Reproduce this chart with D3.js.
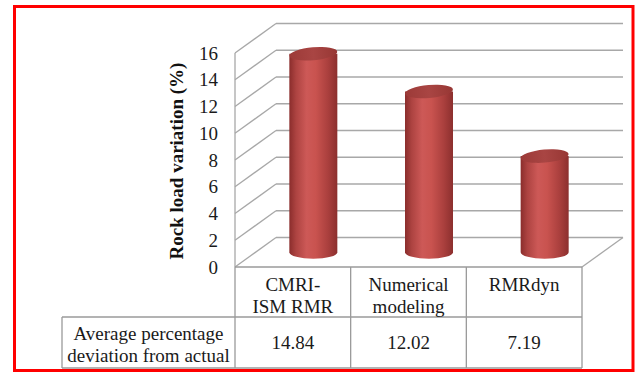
<!DOCTYPE html>
<html>
<head>
<meta charset="utf-8">
<script src="https://cdn.jsdelivr.net/npm/d3@7"></script>
<style>
  html, body { margin: 0; padding: 0; background: #fff; }
  svg { display: block; }
</style>
</head>
<body>
<svg id="chart" width="636" height="372"></svg>
<script>
// Rock load variation by method
const categories = [["CMRI-", "ISM RMR"], ["Numerical", "modeling"], ["RMRdyn"]];
const values = [14.84, 12.02, 7.19];
const yTicks = [0, 2, 4, 6, 8, 10, 12, 14, 16];
const rowLabel = ["Average percentage", "deviation from actual"];
const yTitle = "Rock load variation (%)";

const serif = "'Liberation Serif', 'Times New Roman', Times, 'DejaVu Serif', serif";
const svg = d3.select("#chart")
  .attr("font-family", serif)
  .style("font-family", serif);

// front plane of the 3D box and its depth offset
const x0 = 235, x1 = 582;
const depthX = 41, depthY = -29.5;
const gridColor = "#a8a8a8";

const x = d3.scaleBand().domain(d3.range(values.length)).range([x0, x1]).padding(0);
const y = d3.scaleLinear().domain([0, 16]).range([267, 53]);

// back wall gridlines
svg.append("g").selectAll("line").data(yTicks).join("line")
  .attr("x1", x0 + depthX).attr("x2", x1 + depthX)
  .attr("y1", d => y(d) + depthY).attr("y2", d => y(d) + depthY)
  .attr("stroke", gridColor).attr("stroke-width", 1.3);

// left side wall diagonals
svg.append("g").selectAll("line").data(yTicks).join("line")
  .attr("x1", x0).attr("x2", x0 + depthX)
  .attr("y1", d => y(d)).attr("y2", d => y(d) + depthY)
  .attr("stroke", gridColor).attr("stroke-width", 1.3);

// front left axis edge
svg.append("line")
  .attr("x1", x0).attr("x2", x0).attr("y1", y(16)).attr("y2", y(0))
  .attr("stroke", gridColor).attr("stroke-width", 1.3);

// floor right edge
svg.append("line")
  .attr("x1", x1).attr("x2", x1 + depthX)
  .attr("y1", y(0)).attr("y2", y(0) + depthY)
  .attr("stroke", gridColor).attr("stroke-width", 1.3);

// y tick labels
svg.append("g").selectAll("text").data(yTicks).join("text")
  .attr("x", 218).attr("y", d => y(d))
  .attr("dy", "0.35em")
  .attr("text-anchor", "end")
  .attr("font-size", 19)
  .attr("fill", "#1a1a1a")
  .text(d => d);

// y axis title
svg.append("text")
  .attr("transform", `translate(183,161) rotate(-90)`)
  .attr("text-anchor", "middle")
  .attr("font-size", 19)
  .attr("font-weight", "bold")
  .attr("fill", "#111")
  .text(yTitle);

// cylinder gradients
const defs = svg.append("defs");
const bodyGrad = defs.append("linearGradient").attr("id", "body")
  .attr("x1", "0").attr("x2", "1").attr("y1", "0").attr("y2", "0");
[["0%", "#8a2d2c"], ["14%", "#ad4341"], ["36%", "#cd5957"], ["55%", "#c9534f"],
 ["80%", "#ab403e"], ["100%", "#8c2f2e"]].forEach(([o, c]) =>
  bodyGrad.append("stop").attr("offset", o).attr("stop-color", c));
const topGrad = defs.append("linearGradient").attr("id", "top")
  .attr("x1", "0").attr("x2", "1").attr("y1", "0").attr("y2", "0");
[["0%", "#9c3a38"], ["50%", "#a94543"], ["100%", "#973734"]].forEach(([o, c]) =>
  topGrad.append("stop").attr("offset", o).attr("stop-color", c));

// cylinders
const rx = 24, ry = 6.5, tilt = -5;
const bars = svg.append("g").selectAll("g").data(values).join("g");
bars.each(function (v, i) {
  const g = d3.select(this);
  const cx = x(i) + x.bandwidth() / 2 + depthX / 2;
  const yb = y(0) + depthY / 2;
  const yt = y(v) + depthY / 2;
  g.append("path")
    .attr("d", `M${cx - rx},${yt} L${cx - rx},${yb} A${rx},${ry} 0 0 0 ${cx + rx},${yb} L${cx + rx},${yt} Z`)
    .attr("fill", "url(#body)");
  g.append("ellipse")
    .attr("cx", cx).attr("cy", yt).attr("rx", rx).attr("ry", ry)
    .attr("transform", `rotate(${tilt},${cx},${yt})`)
    .attr("fill", "url(#top)");
});

// data table
const tableColor = "#9a9a9a";
const r0 = y(0), r1 = 317, r2 = 368, tLeft = 62;
const tg = svg.append("g").attr("stroke", tableColor).attr("stroke-width", 1.3);
tg.append("line").attr("x1", x0).attr("x2", x1).attr("y1", r0).attr("y2", r0);
tg.append("line").attr("x1", tLeft).attr("x2", x1).attr("y1", r1).attr("y2", r1);
tg.append("line").attr("x1", tLeft).attr("x2", x1).attr("y1", r2).attr("y2", r2);
tg.append("line").attr("x1", tLeft).attr("x2", tLeft).attr("y1", r1).attr("y2", r2);
tg.selectAll(".v").data(d3.range(values.length + 1)).join("line")
  .attr("x1", d => x0 + d * x.bandwidth()).attr("x2", d => x0 + d * x.bandwidth())
  .attr("y1", r0).attr("y2", r2);

// category labels
svg.append("g").selectAll("text").data(categories).join("text")
  .attr("text-anchor", "middle")
  .attr("font-size", 19)
  .attr("fill", "#1a1a1a")
  .each(function (lines, i) {
    const t = d3.select(this);
    lines.forEach((l, k) => t.append("tspan")
      .attr("x", x(i) + x.bandwidth() / 2)
      .attr("y", 291 + k * 22)
      .text(l));
  });

// row header
const rh = svg.append("text").attr("text-anchor", "middle").attr("font-size", 19)
  .attr("fill", "#1a1a1a");
rowLabel.forEach((l, k) => rh.append("tspan")
  .attr("x", (tLeft + x0) / 2).attr("y", 340 + k * 22).text(l));

// table values
svg.append("g").selectAll("text").data(values).join("text")
  .attr("x", (d, i) => x(i) + x.bandwidth() / 2)
  .attr("y", (r1 + r2) / 2)
  .attr("dy", "0.35em")
  .attr("text-anchor", "middle")
  .attr("font-size", 19)
  .attr("fill", "#1a1a1a")
  .text(d => d.toFixed(2));

// outer frame
svg.append("rect")
  .attr("x", 14.5).attr("y", 6.5).attr("width", 618.5).attr("height", 364)
  .attr("fill", "none").attr("stroke", "#ff0000").attr("stroke-width", 3);
</script>
</body>
</html>
